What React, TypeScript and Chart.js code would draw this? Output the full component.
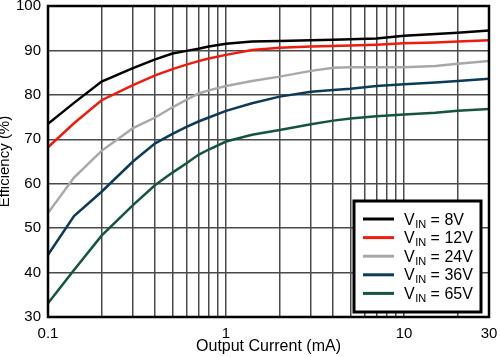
import React, { useEffect, useRef } from "react";
import { Chart, registerables } from "chart.js";

Chart.register(...registerables);

// ---- data ----
const currents = [0.1, 0.14, 0.2, 0.3, 0.4, 0.5, 0.6, 0.7, 0.8, 1, 1.4, 2, 3, 4, 5, 7, 10, 15, 20, 30];
const eff8V = [73.5, 78.2, 83.0, 86.0, 88.0, 89.3, 89.9, 90.4, 90.9, 91.5, 92.0, 92.1, 92.3, 92.4, 92.5, 92.7, 93.3, 93.7, 94.0, 94.5];
const eff12V = [68.2, 73.6, 78.8, 82.2, 84.4, 85.8, 86.8, 87.6, 88.2, 89.0, 90.1, 90.6, 90.9, 91.0, 91.1, 91.3, 91.6, 91.8, 92.0, 92.3];
const eff24V = [53.4, 61.4, 67.4, 72.5, 74.9, 77.2, 78.9, 80.3, 81.0, 82.0, 83.1, 84.1, 85.4, 86.1, 86.2, 86.2, 86.2, 86.5, 87.0, 87.6];
const eff36V = [44.0, 52.7, 58.2, 65.0, 69.1, 71.2, 72.8, 74.0, 74.9, 76.4, 78.1, 79.6, 80.7, 81.1, 81.4, 82.0, 82.4, 82.8, 83.1, 83.6];
const eff65V = [33.1, 40.6, 48.3, 55.2, 59.7, 62.5, 64.6, 66.5, 67.7, 69.5, 71.0, 72.1, 73.4, 74.2, 74.7, 75.2, 75.6, 76.0, 76.4, 76.8];

const seriesVoltages = ["8V", "12V", "24V", "36V", "65V"];
const seriesColors = ["#000000", "#ee1c0e", "#a8a8a8", "#0c3b5a", "#15553b"];

const xGridValues = [0.1, 0.2, 0.3, 0.4, 0.5, 0.6, 0.7, 0.8, 0.9, 1, 2, 3, 4, 5, 6, 7, 8, 9, 10, 20, 30];
const xLabeledValues = [0.1, 1, 10, 30];
const xLabelTexts = ["0.1", "1", "10", "30"];
const yMin = 30;
const yMax = 100;
const yStep = 10;

const FONT = "Arial, 'Liberation Sans', sans-serif";

export default function App() {
  const ref = useRef<HTMLCanvasElement | null>(null);

  useEffect(() => {
    document.body.style.margin = "0";
    const canvas = ref.current;
    if (!canvas) return;
    const seriesValues = [eff8V, eff12V, eff24V, eff36V, eff65V];

    const framePlugin = {
      id: "frameAndLegend",
      afterDraw(chart: any) {
        const { ctx, chartArea } = chart;
        ctx.save();
        // frame
        ctx.strokeStyle = "#000";
        ctx.lineWidth = 2.5;
        ctx.strokeRect(chartArea.left, chartArea.top, chartArea.right - chartArea.left, chartArea.bottom - chartArea.top);

        // legend box
        const bx = 354, by = 201, bw = 127, bh = 111;
        ctx.fillStyle = "#fff";
        ctx.fillRect(bx, by, bw, bh);
        ctx.lineWidth = 3;
        ctx.strokeStyle = "#000";
        ctx.strokeRect(bx, by, bw, bh);

        const rowStart = 219;
        const rowGap = 18.6;
        chart.data.datasets.forEach((ds: any, i: number) => {
          const cy = rowStart + i * rowGap;
          ctx.strokeStyle = ds.borderColor;
          ctx.lineWidth = 3;
          ctx.beginPath();
          ctx.moveTo(363, cy);
          ctx.lineTo(394, cy);
          ctx.stroke();

          ctx.fillStyle = "#000";
          ctx.textAlign = "left";
          ctx.textBaseline = "alphabetic";
          const base = cy + 5.5;
          ctx.font = `16px ${FONT}`;
          ctx.fillText("V", 404, base);
          const vw = ctx.measureText("V").width;
          ctx.font = `11px ${FONT}`;
          ctx.fillText("IN", 404 + vw + 0.5, base + 3);
          const sw = ctx.measureText("IN").width;
          ctx.font = `16px ${FONT}`;
          ctx.fillText(" = " + seriesVoltages[i], 404 + vw + 0.5 + sw, base);
        });
        ctx.restore();
      },
    };

    const chart = new Chart(canvas, {
      type: "line",
      data: {
        datasets: seriesValues.map((vals, i) => ({
          label: "VIN = " + seriesVoltages[i],
          data: currents.map((c, j) => ({ x: c, y: vals[j] })),
          borderColor: seriesColors[i],
          backgroundColor: seriesColors[i],
          borderWidth: 2.5,
          pointRadius: 0,
          tension: 0,
          fill: false,
        })),
      },
      options: {
        responsive: false,
        animation: false,
        devicePixelRatio: 1,
        layout: { padding: { left: 0, right: 11, top: 6, bottom: 0 } },
        plugins: { legend: { display: false }, tooltip: { enabled: false } },
        scales: {
          x: {
            type: "logarithmic",
            min: 0.1,
            max: 30,
            afterBuildTicks: (scale: any) => {
              scale.ticks = xGridValues.map((v) => ({ value: v }));
            },
            afterFit: (scale: any) => {
              scale.height = 40;
              scale.paddingLeft = 0;
              scale.paddingRight = 0;
            },
            ticks: {
              autoSkip: false,
              maxRotation: 0,
              color: "#000",
              padding: 8,
              font: { family: FONT, size: 15 },
              callback: (value: any) => {
                const idx = xLabeledValues.findIndex((v) => Math.abs(v - Number(value)) < 1e-9);
                return idx >= 0 ? xLabelTexts[idx] : "";
              },
            },
            grid: { color: "#4a4a4a", lineWidth: 1.5, drawTicks: false },
            border: { display: false },
            title: {
              display: true,
              text: "Output Current (mA)",
              color: "#000",
              font: { family: FONT, size: 16 },
              padding: { top: 0, bottom: 1 },
            },
          },
          y: {
            type: "linear",
            min: yMin,
            max: yMax,
            afterFit: (scale: any) => {
              scale.width = 48;
              scale.paddingTop = 0;
              scale.paddingBottom = 0;
            },
            ticks: {
              stepSize: yStep,
              color: "#000",
              padding: 7,
              font: { family: FONT, size: 15 },
            },
            grid: { color: "#4a4a4a", lineWidth: 1.5, drawTicks: false },
            border: { display: false },
            title: {
              display: true,
              text: "Efficiency (%)",
              color: "#000",
              font: { family: FONT, size: 15 },
              padding: { top: -4, bottom: 0 },
            },
          },
        },
      },
      plugins: [framePlugin],
    } as any);

    return () => chart.destroy();
  }, []);

  return (
    <div style={{ position: "absolute", left: 0, top: 0, width: 500, height: 357 }}>
      <canvas ref={ref} width={500} height={357} style={{ width: 500, height: 357, display: "block" }} />
    </div>
  );
}
